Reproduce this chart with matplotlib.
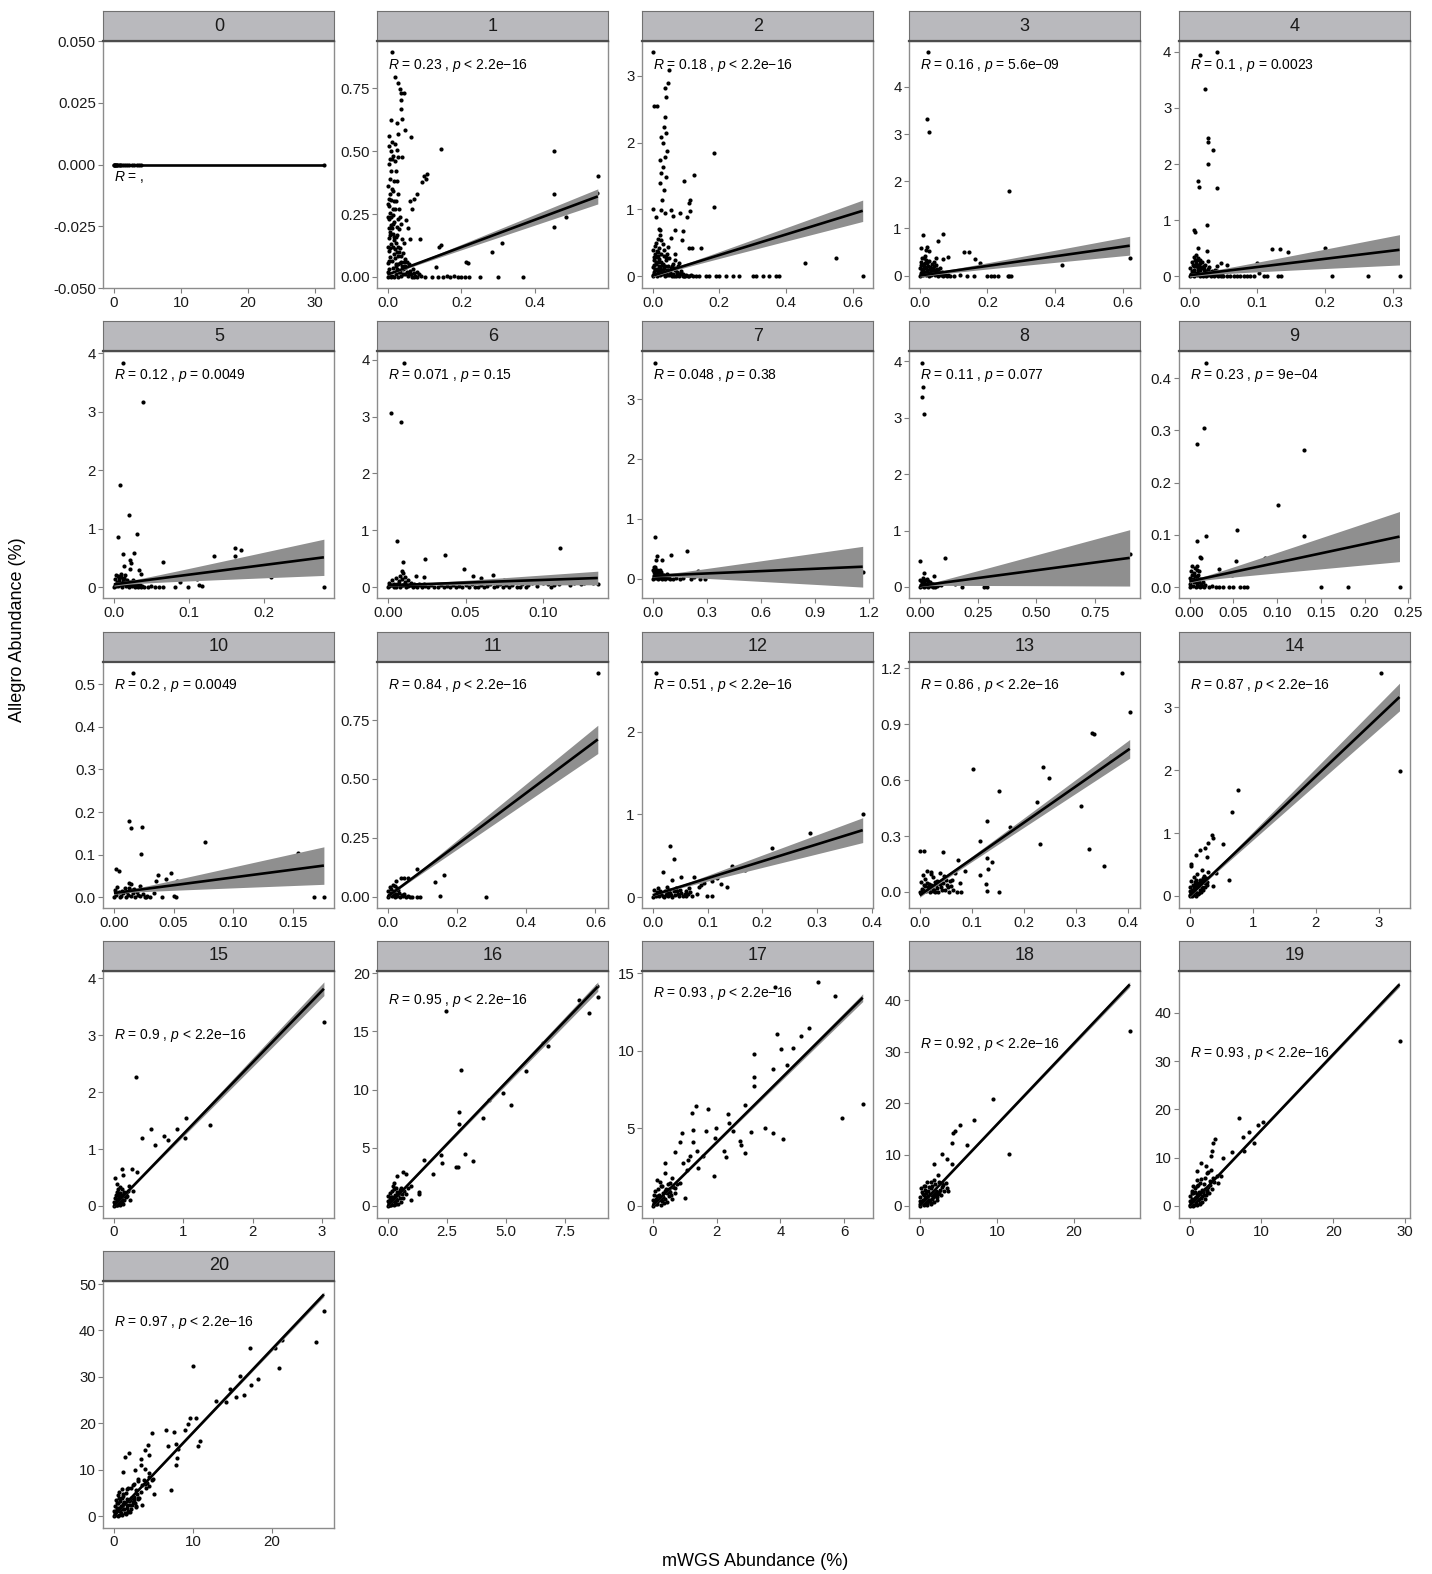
"""Facet grid of Allegro vs mWGS abundance per panel, with linear fits."""

import matplotlib

matplotlib.use("Agg")
import matplotlib.pyplot as plt
import matplotlib.transforms as mtransforms
import numpy as np

plt.rcParams["font.family"] = ["Liberation Sans", "DejaVu Sans"]
plt.rcParams["mathtext.fontset"] = "custom"
plt.rcParams["mathtext.rm"] = "Liberation Sans"
plt.rcParams["mathtext.it"] = "Liberation Sans:italic"

# ---- data (x = mWGS %, y = Allegro %) ----
p0_points = [
    (0.0, 0), (0.05, 0), (0.1, 0), (0.2, 0), (0.3, 0), (0.4, 0), (0.5, 0),
    (0.7, 0), (0.9, 0), (1.1, 0), (1.4, 0), (1.7, 0), (2.0, 0), (2.3, 0),
    (2.7, 0), (3.0, 0), (3.4, 0), (3.8, 0), (4.1, 0), (31.3, 0),
]
p1_points = [
    (0.000, 0.000), (0.002, 0.010), (0.004, 0.030), (0.001, 0.055), (0.006, 0.080),
    (0.003, 0.105), (0.008, 0.130), (0.002, 0.155), (0.005, 0.180), (0.009, 0.205),
    (0.003, 0.230), (0.007, 0.255), (0.004, 0.280), (0.010, 0.305), (0.006, 0.330),
    (0.012, 0.005), (0.014, 0.035), (0.011, 0.065), (0.016, 0.090), (0.013, 0.120),
    (0.018, 0.145), (0.015, 0.170), (0.012, 0.195), (0.017, 0.220), (0.014, 0.245),
    (0.019, 0.270), (0.016, 0.300), (0.021, 0.010), (0.023, 0.045), (0.020, 0.075),
    (0.025, 0.100), (0.022, 0.135), (0.026, 0.165), (0.024, 0.200), (0.028, 0.230),
    (0.030, 0.020), (0.032, 0.055), (0.029, 0.085), (0.034, 0.115), (0.036, 0.005),
    (0.040, 0.030), (0.043, 0.060), (0.038, 0.150), (0.046, 0.010), (0.050, 0.040),
    (0.055, 0.005), (0.060, 0.025), (0.065, 0.000), (0.070, 0.015), (0.075, 0.005),
    (0.001, 0.360), (0.005, 0.390), (0.009, 0.420), (0.003, 0.450), (0.014, 0.340),
    (0.018, 0.380), (0.022, 0.300), (0.027, 0.330), (0.030, 0.270), (0.033, 0.240),
    (0.000, 0.120), (0.000, 0.240), (0.001, 0.290), (0.008, 0.000), (0.017, 0.000),
    (0.027, 0.000), (0.035, 0.060), (0.042, 0.095), (0.048, 0.070), (0.052, 0.060),
    (0.058, 0.050), (0.031, 0.190), (0.036, 0.210),
    (0.001, 0.020), (0.003, 0.065), (0.005, 0.115), (0.007, 0.165), (0.002, 0.195),
    (0.009, 0.240), (0.004, 0.310), (0.011, 0.350), (0.013, 0.270), (0.015, 0.210),
    (0.017, 0.160), (0.019, 0.110), (0.021, 0.050), (0.023, 0.160), (0.025, 0.030),
    (0.027, 0.120), (0.029, 0.050), (0.031, 0.100), (0.033, 0.020), (0.037, 0.085),
    (0.039, 0.045), (0.041, 0.010), (0.044, 0.035), (0.047, 0.045), (0.053, 0.020),
    (0.057, 0.010), (0.062, 0.010), (0.068, 0.030), (0.072, 0.000), (0.078, 0.020),
    (0.085, 0.010), (0.006, 0.470), (0.010, 0.500), (0.015, 0.480), (0.020, 0.460),
    (0.022, 0.420), (0.024, 0.380), (0.002, 0.520), (0.004, 0.560),
    (0.011, 0.892), (0.019, 0.795), (0.027, 0.769), (0.032, 0.745), (0.036, 0.729),
    (0.043, 0.729), (0.008, 0.622), (0.026, 0.612), (0.036, 0.702), (0.036, 0.669),
    (0.038, 0.629), (0.027, 0.569), (0.046, 0.582), (0.064, 0.558), (0.011, 0.536),
    (0.019, 0.529), (0.024, 0.503), (0.029, 0.476), (0.012, 0.469), (0.038, 0.476),
    (0.145, 0.509), (0.450, 0.500), (0.450, 0.330), (0.450, 0.200), (0.470, 0.257),
    (0.484, 0.237), (0.570, 0.400), (0.568, 0.334), (0.310, 0.136), (0.283, 0.098),
    (0.368, 0.000), (0.300, 0.000), (0.213, 0.060), (0.217, 0.054), (0.140, 0.120),
    (0.144, 0.127), (0.131, 0.040), (0.088, 0.150), (0.099, 0.400), (0.103, 0.390),
    (0.094, 0.376), (0.107, 0.410), (0.080, 0.330), (0.070, 0.310), (0.060, 0.300),
    (0.066, 0.270), (0.050, 0.227), (0.055, 0.194), (0.060, 0.150), (0.044, 0.134),
    (0.080, 0.000), (0.090, 0.005), (0.100, 0.000), (0.120, 0.000), (0.135, 0.000),
    (0.150, 0.000), (0.160, 0.005), (0.170, 0.000), (0.180, 0.004), (0.190, 0.000),
    (0.200, 0.000), (0.210, 0.000), (0.220, 0.000), (0.250, 0.000),
]
p2_points = [
    (0.000, 0.000), (0.003, 0.040), (0.006, 0.090), (0.002, 0.140), (0.009, 0.190),
    (0.004, 0.240), (0.011, 0.290), (0.007, 0.340), (0.013, 0.010), (0.016, 0.060),
    (0.012, 0.110), (0.018, 0.160), (0.015, 0.210), (0.020, 0.260), (0.017, 0.310),
    (0.022, 0.020), (0.025, 0.070), (0.021, 0.120), (0.027, 0.170), (0.024, 0.220),
    (0.029, 0.030), (0.032, 0.080), (0.035, 0.130), (0.031, 0.180), (0.037, 0.000),
    (0.040, 0.050), (0.043, 0.100), (0.046, 0.150), (0.049, 0.020), (0.052, 0.070),
    (0.055, 0.120), (0.058, 0.000), (0.062, 0.040), (0.066, 0.090), (0.070, 0.010),
    (0.074, 0.050), (0.078, 0.000), (0.082, 0.030), (0.086, 0.080), (0.090, 0.010),
    (0.095, 0.000), (0.100, 0.020), (0.105, 0.000), (0.110, 0.010), (0.001, 0.400),
    (0.008, 0.450), (0.014, 0.380), (0.019, 0.430), (0.026, 0.340), (0.033, 0.300),
    (0.039, 0.250), (0.044, 0.330), (0.050, 0.280), (0.060, 0.180), (0.068, 0.250),
    (0.075, 0.150), (0.080, 0.200),
    (0.001, 0.020), (0.004, 0.065), (0.008, 0.115), (0.005, 0.165), (0.010, 0.215),
    (0.003, 0.290), (0.014, 0.035), (0.019, 0.085), (0.023, 0.140), (0.028, 0.100),
    (0.034, 0.050), (0.038, 0.160), (0.042, 0.020), (0.047, 0.090), (0.053, 0.040),
    (0.057, 0.150), (0.064, 0.010), (0.068, 0.120), (0.072, 0.070), (0.077, 0.030),
    (0.084, 0.050), (0.092, 0.040), (0.098, 0.010), (0.115, 0.020), (0.130, 0.010),
    (0.010, 0.500), (0.016, 0.560), (0.022, 0.620), (0.018, 0.700), (0.030, 0.480),
    (0.035, 0.400),
    (0.002, 3.350), (0.048, 3.090), (0.046, 2.890), (0.041, 2.690), (0.038, 2.820),
    (0.036, 2.390), (0.034, 2.240), (0.039, 2.140), (0.026, 2.090), (0.031, 1.990),
    (0.044, 1.870), (0.036, 1.790), (0.023, 1.740), (0.031, 1.640), (0.026, 1.540),
    (0.041, 1.490), (0.023, 1.390), (0.034, 1.290), (0.028, 1.140), (0.005, 2.550),
    (0.012, 2.550), (0.000, 1.000), (0.024, 0.990), (0.036, 0.940), (0.056, 0.990),
    (0.060, 0.900), (0.082, 0.940), (0.094, 1.420), (0.123, 1.520), (0.108, 1.090),
    (0.113, 1.140), (0.113, 0.970), (0.103, 0.890), (0.185, 1.840), (0.183, 1.040),
    (0.092, 0.670), (0.087, 0.540), (0.108, 0.420), (0.118, 0.420), (0.144, 0.420),
    (0.067, 0.690), (0.056, 0.570), (0.046, 0.440), (0.067, 0.340), (0.041, 0.290),
    (0.015, 0.370), (0.026, 0.540), (0.021, 0.690), (0.010, 0.890),
    (0.456, 0.200), (0.549, 0.280), (0.630, 0.000),
    (0.120, 0.000), (0.140, 0.000), (0.160, 0.010), (0.170, 0.000), (0.190, 0.000),
    (0.200, 0.000), (0.220, 0.000), (0.240, 0.000), (0.260, 0.000), (0.300, 0.000),
    (0.310, 0.000), (0.330, 0.000), (0.350, 0.000), (0.370, 0.000), (0.380, 0.000),
]
p3_points = [
    (0.000, 0.000), (0.003, 0.050), (0.006, 0.110), (0.002, 0.170), (0.009, 0.230),
    (0.005, 0.290), (0.011, 0.010), (0.014, 0.070), (0.010, 0.130), (0.016, 0.190),
    (0.013, 0.250), (0.018, 0.320), (0.020, 0.020), (0.023, 0.090), (0.019, 0.150),
    (0.025, 0.210), (0.028, 0.000), (0.031, 0.060), (0.034, 0.120), (0.030, 0.180),
    (0.037, 0.030), (0.040, 0.090), (0.044, 0.010), (0.047, 0.060), (0.050, 0.140),
    (0.054, 0.000), (0.058, 0.040), (0.062, 0.010), (0.066, 0.070), (0.070, 0.000),
    (0.075, 0.020), (0.080, 0.000), (0.085, 0.010), (0.090, 0.000), (0.008, 0.380),
    (0.015, 0.420), (0.022, 0.270), (0.027, 0.300), (0.035, 0.240), (0.042, 0.200),
    (0.055, 0.100), (0.060, 0.160),
    (0.004, 0.020), (0.008, 0.080), (0.012, 0.180), (0.017, 0.040), (0.021, 0.110),
    (0.026, 0.060), (0.029, 0.130), (0.033, 0.020), (0.039, 0.160), (0.045, 0.110),
    (0.052, 0.030), (0.057, 0.080), (0.064, 0.030), (0.072, 0.050), (0.005, 0.220),
    (0.016, 0.260), (0.048, 0.220),
    (0.100, 0.000), (0.120, 0.010), (0.140, 0.000), (0.160, 0.000), (0.200, 0.000),
    (0.210, 0.000), (0.220, 0.000), (0.230, 0.000), (0.260, 0.000), (0.265, 0.000),
    (0.270, 0.000),
    (0.025, 4.730), (0.021, 3.310), (0.028, 3.040), (0.264, 1.790), (0.420, 0.230),
    (0.620, 0.380), (0.010, 0.850), (0.070, 0.890), (0.053, 0.730), (0.003, 0.580),
    (0.023, 0.600), (0.028, 0.510), (0.018, 0.550), (0.083, 0.400), (0.068, 0.350),
    (0.131, 0.500), (0.147, 0.500), (0.162, 0.350), (0.177, 0.260), (0.043, 0.280),
    (0.048, 0.370), (0.013, 0.370),
]
p4_points = [
    (0.000, 0.000), (0.002, 0.050), (0.004, 0.100), (0.001, 0.150), (0.005, 0.200),
    (0.003, 0.250), (0.006, 0.010), (0.008, 0.060), (0.007, 0.120), (0.009, 0.180),
    (0.010, 0.240), (0.008, 0.300), (0.011, 0.020), (0.013, 0.080), (0.012, 0.140),
    (0.014, 0.200), (0.013, 0.330), (0.015, 0.000), (0.017, 0.050), (0.016, 0.110),
    (0.018, 0.170), (0.020, 0.010), (0.022, 0.070), (0.021, 0.130), (0.019, 0.260),
    (0.024, 0.000), (0.026, 0.040), (0.025, 0.100), (0.028, 0.020), (0.030, 0.080),
    (0.029, 0.160), (0.032, 0.000), (0.034, 0.050), (0.036, 0.010), (0.038, 0.110),
    (0.040, 0.030), (0.042, 0.000), (0.044, 0.060), (0.046, 0.010), (0.023, 0.200),
    (0.027, 0.280), (0.011, 0.290), (0.006, 0.350),
    (0.003, 0.020), (0.005, 0.080), (0.007, 0.180), (0.009, 0.040), (0.012, 0.110),
    (0.015, 0.230), (0.017, 0.140), (0.019, 0.030), (0.021, 0.180), (0.023, 0.050),
    (0.027, 0.130), (0.031, 0.040), (0.033, 0.100), (0.037, 0.060), (0.041, 0.090),
    (0.048, 0.030), (0.010, 0.380), (0.016, 0.300),
    (0.050, 0.000), (0.055, 0.010), (0.060, 0.000), (0.065, 0.000), (0.070, 0.000),
    (0.075, 0.010), (0.080, 0.000), (0.085, 0.000), (0.090, 0.000), (0.095, 0.000),
    (0.110, 0.000), (0.115, 0.000), (0.130, 0.000), (0.135, 0.000),
    (0.016, 3.950), (0.041, 3.990), (0.023, 3.340), (0.028, 2.460), (0.028, 2.400),
    (0.035, 2.260), (0.028, 2.000), (0.012, 1.690), (0.014, 1.600), (0.040, 1.570),
    (0.026, 0.920), (0.007, 0.830), (0.008, 0.790), (0.012, 0.500), (0.026, 0.460),
    (0.122, 0.490), (0.134, 0.490), (0.146, 0.430), (0.154, 0.300), (0.200, 0.500),
    (0.100, 0.230), (0.102, 0.060), (0.210, 0.000), (0.264, 0.000), (0.310, 0.000),
    (0.047, 0.240), (0.055, 0.210), (0.040, 0.180),
]
p5_points = [
    (0.000, 0.000), (0.002, 0.040), (0.004, 0.090), (0.001, 0.140), (0.005, 0.190),
    (0.006, 0.010), (0.008, 0.060), (0.007, 0.110), (0.009, 0.170), (0.011, 0.000),
    (0.013, 0.050), (0.012, 0.100), (0.014, 0.150), (0.016, 0.020), (0.018, 0.070),
    (0.017, 0.120), (0.020, 0.000), (0.022, 0.040), (0.021, 0.090), (0.024, 0.010),
    (0.026, 0.060), (0.028, 0.000), (0.030, 0.030), (0.032, 0.000), (0.034, 0.020),
    (0.036, 0.000), (0.015, 0.200), (0.010, 0.220),
    (0.003, 0.020), (0.005, 0.070), (0.007, 0.150), (0.010, 0.040), (0.012, 0.130),
    (0.015, 0.080), (0.019, 0.030), (0.023, 0.070), (0.025, 0.120), (0.027, 0.030),
    (0.031, 0.060), (0.035, 0.040), (0.038, 0.010), (0.003, 0.200),
    (0.040, 0.000), (0.045, 0.000), (0.050, 0.010), (0.055, 0.000), (0.060, 0.000),
    (0.065, 0.000),
    (0.012, 3.840), (0.039, 3.170), (0.008, 1.750), (0.020, 1.230), (0.005, 0.860),
    (0.031, 0.900), (0.012, 0.570), (0.027, 0.590), (0.013, 0.360), (0.022, 0.460),
    (0.023, 0.420), (0.022, 0.310), (0.033, 0.300), (0.036, 0.220), (0.066, 0.430),
    (0.134, 0.530), (0.161, 0.670), (0.161, 0.530), (0.169, 0.630), (0.185, 0.390),
    (0.200, 0.400), (0.209, 0.180), (0.280, 0.000), (0.111, 0.140), (0.113, 0.030),
    (0.118, 0.010), (0.088, 0.090), (0.081, 0.000), (0.099, 0.000),
]
p6_points = [
    (0.000, 0.00), (0.002, 0.03), (0.004, 0.00), (0.006, 0.05), (0.008, 0.01),
    (0.010, 0.04), (0.012, 0.00), (0.014, 0.03), (0.016, 0.00), (0.018, 0.02),
    (0.020, 0.05), (0.022, 0.00), (0.024, 0.02), (0.026, 0.00), (0.028, 0.04),
    (0.030, 0.00), (0.032, 0.01), (0.034, 0.03), (0.036, 0.00), (0.038, 0.02),
    (0.040, 0.00), (0.042, 0.04), (0.044, 0.00), (0.046, 0.02), (0.048, 0.00),
    (0.050, 0.03), (0.052, 0.00), (0.054, 0.05), (0.056, 0.01), (0.058, 0.00),
    (0.060, 0.03), (0.062, 0.00), (0.064, 0.02), (0.066, 0.06), (0.068, 0.00),
    (0.070, 0.02), (0.072, 0.05), (0.074, 0.00), (0.076, 0.03), (0.078, 0.00),
    (0.080, 0.04), (0.083, 0.01), (0.086, 0.06), (0.090, 0.03), (0.093, 0.07),
    (0.096, 0.02), (0.100, 0.08), (0.103, 0.05), (0.106, 0.09), (0.110, 0.06),
    (0.114, 0.10), (0.117, 0.04), (0.120, 0.08), (0.124, 0.06), (0.128, 0.10),
    (0.132, 0.07),
    (0.001, 0.08), (0.003, 0.12), (0.005, 0.16), (0.007, 0.10), (0.009, 0.14),
    (0.011, 0.09), (0.004, 0.06), (0.013, 0.12), (0.015, 0.07), (0.008, 0.20),
    (0.010, 0.25), (0.001, 0.02), (0.003, 0.04), (0.005, 0.01), (0.007, 0.06),
    (0.009, 0.03), (0.011, 0.05), (0.013, 0.02), (0.015, 0.04), (0.017, 0.06),
    (0.019, 0.01), (0.021, 0.03), (0.023, 0.05),
    (0.0104, 3.95), (0.002, 3.06), (0.0088, 2.90), (0.006, 0.81), (0.0095, 0.44),
    (0.024, 0.49), (0.0365, 0.57), (0.049, 0.31), (0.111, 0.69), (0.0545, 0.19),
    (0.060, 0.16), (0.0675, 0.22), (0.0746, 0.13), (0.089, 0.13), (0.011, 0.18),
    (0.0092, 0.28), (0.018, 0.20), (0.023, 0.18), (0.118, 0.13), (0.126, 0.07),
    (0.123, 0.10), (0.085, 0.00), (0.089, 0.00), (0.105, 0.00), (0.107, 0.04),
    (0.100, 0.12), (0.135, 0.05),
]
p7_points = [
    (0.000, 0.000), (0.005, 0.040), (0.010, 0.090), (0.003, 0.140), (0.015, 0.190),
    (0.020, 0.010), (0.025, 0.060), (0.018, 0.120), (0.030, 0.000), (0.035, 0.050),
    (0.028, 0.100), (0.040, 0.020), (0.045, 0.080), (0.038, 0.150), (0.050, 0.000),
    (0.055, 0.040), (0.060, 0.010), (0.065, 0.070), (0.070, 0.000), (0.075, 0.030),
    (0.080, 0.060), (0.085, 0.010), (0.090, 0.040), (0.095, 0.000), (0.012, 0.170),
    (0.022, 0.140), (0.008, 0.200),
    (0.007, 0.020), (0.013, 0.060), (0.017, 0.030), (0.023, 0.090), (0.027, 0.020),
    (0.033, 0.120), (0.042, 0.050), (0.048, 0.110), (0.058, 0.060), (0.068, 0.020),
    (0.078, 0.080), (0.005, 0.110), (0.010, 0.150),
    (0.110, 0.000), (0.130, 0.020), (0.150, 0.000), (0.170, 0.010), (0.210, 0.000),
    (0.230, 0.030), (0.260, 0.000), (0.290, 0.000),
    (0.014, 3.610), (0.014, 0.700), (0.023, 0.380), (0.017, 0.320), (0.050, 0.320),
    (0.100, 0.390), (0.190, 0.470), (0.250, 0.130), (1.166, 0.120),
]
p8_points = [
    (0.000, 0.000), (0.004, 0.040), (0.008, 0.090), (0.002, 0.130), (0.012, 0.010),
    (0.016, 0.060), (0.010, 0.110), (0.020, 0.000), (0.024, 0.040), (0.018, 0.090),
    (0.028, 0.010), (0.032, 0.060), (0.026, 0.120), (0.036, 0.000), (0.040, 0.030),
    (0.044, 0.080), (0.048, 0.010), (0.052, 0.050), (0.056, 0.000), (0.060, 0.020),
    (0.065, 0.000), (0.070, 0.030), (0.014, 0.150), (0.030, 0.140),
    (0.006, 0.020), (0.010, 0.060), (0.014, 0.030), (0.018, 0.120), (0.022, 0.060),
    (0.030, 0.030), (0.034, 0.100), (0.042, 0.050), (0.050, 0.030), (0.058, 0.060),
    (0.075, 0.010), (0.080, 0.040),
    (0.011, 3.980), (0.013, 3.550), (0.011, 3.370), (0.020, 3.060), (0.002, 0.460),
    (0.110, 0.510), (0.018, 0.240), (0.062, 0.200), (0.380, 0.310), (0.304, 0.240),
    (0.220, 0.090), (0.270, 0.070), (0.275, 0.000), (0.290, 0.000), (0.840, 0.520),
    (0.900, 0.590), (0.150, 0.060), (0.180, 0.000), (0.090, 0.030),
]
p9_points = [
    (0.000, 0.000), (0.001, 0.006), (0.002, 0.012), (0.001, 0.018), (0.003, 0.024),
    (0.002, 0.030), (0.004, 0.003), (0.005, 0.009), (0.004, 0.015), (0.006, 0.021),
    (0.005, 0.027), (0.007, 0.000), (0.008, 0.006), (0.007, 0.012), (0.009, 0.018),
    (0.008, 0.033), (0.010, 0.003), (0.011, 0.009), (0.010, 0.024), (0.012, 0.000),
    (0.013, 0.006), (0.012, 0.015), (0.014, 0.003), (0.015, 0.010), (0.016, 0.000),
    (0.018, 0.004), (0.006, 0.036), (0.003, 0.040), (0.009, 0.040), (0.011, 0.030),
    (0.022, 0.000), (0.026, 0.002), (0.030, 0.000), (0.034, 0.000), (0.038, 0.001),
    (0.045, 0.000), (0.050, 0.000), (0.058, 0.000), (0.062, 0.000), (0.066, 0.000),
    (0.019, 0.430), (0.017, 0.304), (0.009, 0.274), (0.131, 0.262), (0.101, 0.158),
    (0.054, 0.109), (0.019, 0.098), (0.131, 0.098), (0.012, 0.058), (0.013, 0.056),
    (0.008, 0.088), (0.086, 0.055), (0.053, 0.049), (0.135, 0.046), (0.034, 0.035),
    (0.042, 0.026), (0.049, 0.024), (0.150, 0.000), (0.181, 0.000), (0.240, 0.000),
]
p10_points = [
    (0.000, 0.000), (0.002, 0.006), (0.004, 0.012), (0.001, 0.018), (0.006, 0.003),
    (0.008, 0.009), (0.007, 0.015), (0.009, 0.021), (0.010, 0.000), (0.012, 0.006),
    (0.011, 0.012), (0.014, 0.003), (0.016, 0.009), (0.015, 0.016), (0.018, 0.000),
    (0.020, 0.005), (0.019, 0.012), (0.022, 0.002), (0.024, 0.008), (0.026, 0.000),
    (0.028, 0.004), (0.003, 0.024), (0.013, 0.022), (0.017, 0.020), (0.005, 0.000),
    (0.030, 0.000),
    (0.0164, 0.527), (0.0128, 0.179), (0.0146, 0.162), (0.0239, 0.165), (0.023, 0.102),
    (0.076, 0.130), (0.154, 0.105), (0.168, 0.000), (0.176, 0.000), (0.002, 0.067),
    (0.0042, 0.061), (0.048, 0.057), (0.0433, 0.044), (0.037, 0.052), (0.0356, 0.038),
    (0.053, 0.038), (0.050, 0.002), (0.052, 0.000), (0.040, 0.000), (0.034, 0.010),
    (0.027, 0.000), (0.022, 0.026), (0.013, 0.034), (0.014, 0.030),
]
p11_points = [
    (0.000, 0.000), (0.004, 0.008), (0.008, 0.016), (0.002, 0.024), (0.012, 0.004),
    (0.016, 0.012), (0.010, 0.030), (0.020, 0.000), (0.024, 0.010), (0.018, 0.022),
    (0.028, 0.004), (0.032, 0.014), (0.026, 0.036), (0.036, 0.000), (0.040, 0.008),
    (0.044, 0.002), (0.048, 0.010), (0.006, 0.040), (0.014, 0.048), (0.022, 0.045),
    (0.030, 0.028), (0.052, 0.000), (0.058, 0.004), (0.064, 0.000),
    (0.607, 0.951), (0.084, 0.117), (0.135, 0.060), (0.161, 0.093), (0.151, 0.003),
    (0.284, 0.000), (0.023, 0.067), (0.038, 0.077), (0.048, 0.077), (0.058, 0.077),
    (0.069, 0.000), (0.084, 0.000), (0.094, 0.000),
]
p12_points = [
    (0.000, 0.000), (0.004, 0.030), (0.008, 0.060), (0.002, 0.090), (0.012, 0.010),
    (0.016, 0.040), (0.014, 0.080), (0.020, 0.000), (0.024, 0.030), (0.022, 0.070),
    (0.028, 0.010), (0.032, 0.050), (0.030, 0.090), (0.036, 0.000), (0.040, 0.030),
    (0.044, 0.070), (0.048, 0.010), (0.052, 0.050), (0.056, 0.020), (0.060, 0.080),
    (0.064, 0.040), (0.010, 0.110), (0.026, 0.120), (0.042, 0.110),
    (0.006, 0.015), (0.010, 0.045), (0.018, 0.020), (0.026, 0.055), (0.034, 0.025),
    (0.038, 0.075), (0.046, 0.040), (0.050, 0.090), (0.058, 0.040), (0.068, 0.060),
    (0.072, 0.020), (0.080, 0.040),
    (0.0066, 2.710), (0.383, 1.000), (0.363, 0.830), (0.286, 0.780), (0.218, 0.590),
    (0.277, 0.610), (0.144, 0.380), (0.169, 0.330), (0.117, 0.230), (0.124, 0.160),
    (0.136, 0.130), (0.108, 0.200), (0.031, 0.620), (0.038, 0.460), (0.019, 0.310),
    (0.052, 0.240), (0.075, 0.240), (0.089, 0.150), (0.099, 0.020), (0.108, 0.020),
    (0.061, 0.020), (0.066, 0.110), (0.036, 0.210), (0.085, 0.130), (0.094, 0.170),
]
p13_points = [
    (0.000, 0.000), (0.004, 0.015), (0.008, 0.035), (0.002, 0.055), (0.012, 0.005),
    (0.016, 0.025), (0.010, 0.070), (0.020, 0.000), (0.024, 0.020), (0.018, 0.045),
    (0.028, 0.010), (0.032, 0.035), (0.026, 0.080), (0.036, 0.000), (0.040, 0.025),
    (0.034, 0.060), (0.044, 0.050), (0.048, 0.010), (0.052, 0.040), (0.046, 0.085),
    (0.056, 0.000), (0.022, 0.095), (0.014, 0.110), (0.038, 0.100), (0.060, 0.030),
    (0.030, 0.000), (0.006, 0.090),
    (0.006, 0.010), (0.010, 0.030), (0.014, 0.050), (0.018, 0.015), (0.022, 0.035),
    (0.026, 0.005), (0.030, 0.055), (0.034, 0.020), (0.038, 0.045), (0.042, 0.010),
    (0.050, 0.065), (0.054, 0.025), (0.058, 0.060), (0.064, 0.010),
    (0.388, 1.176), (0.403, 0.966), (0.331, 0.854), (0.334, 0.845), (0.367, 0.731),
    (0.237, 0.673), (0.248, 0.610), (0.102, 0.660), (0.153, 0.543), (0.226, 0.482),
    (0.310, 0.463), (0.173, 0.347), (0.129, 0.379), (0.115, 0.276), (0.230, 0.260),
    (0.324, 0.231), (0.354, 0.142), (0.129, 0.183), (0.138, 0.160), (0.131, 0.125),
    (0.116, 0.089), (0.128, 0.041), (0.129, 0.005), (0.153, 0.002), (0.072, 0.000),
    (0.080, 0.000), (0.074, 0.171), (0.087, 0.112), (0.067, 0.103), (0.062, 0.062),
    (0.077, 0.050), (0.001, 0.219), (0.008, 0.222), (0.044, 0.215), (0.021, 0.107),
]
p14_points = [
    (0.000, 0.000), (0.020, 0.040), (0.040, 0.090), (0.010, 0.140), (0.060, 0.020),
    (0.080, 0.070), (0.050, 0.180), (0.100, 0.000), (0.120, 0.050), (0.090, 0.120),
    (0.140, 0.030), (0.160, 0.100), (0.130, 0.200), (0.180, 0.060), (0.200, 0.150),
    (0.170, 0.250), (0.220, 0.100), (0.240, 0.200), (0.260, 0.280), (0.030, 0.230),
    (0.070, 0.300), (0.110, 0.260), (0.000, 0.080), (0.040, 0.000),
    (0.010, 0.020), (0.030, 0.060), (0.050, 0.100), (0.070, 0.140), (0.090, 0.060),
    (0.110, 0.180), (0.150, 0.160), (0.190, 0.200), (0.210, 0.280), (0.230, 0.320),
    (0.120, 0.350), (0.080, 0.220), (0.150, 0.050), (0.250, 0.150), (0.280, 0.220),
    (3.040, 3.550), (3.330, 1.980), (0.770, 1.680), (0.670, 1.340), (0.360, 0.970),
    (0.380, 0.920), (0.530, 0.830), (0.300, 0.840), (0.160, 0.730), (0.100, 0.650),
    (0.020, 0.510), (0.030, 0.470), (0.240, 0.760), (0.280, 0.620), (0.200, 0.420),
    (0.300, 0.380), (0.420, 0.360), (0.630, 0.260), (0.370, 0.160), (0.280, 0.170),
    (0.220, 0.250),
]
p15_points = [
    (0.000, 0.000), (0.020, 0.040), (0.040, 0.090), (0.010, 0.140), (0.050, 0.020),
    (0.070, 0.070), (0.030, 0.190), (0.090, 0.010), (0.100, 0.060), (0.060, 0.120),
    (0.110, 0.110), (0.080, 0.160), (0.130, 0.040), (0.120, 0.180), (0.150, 0.100),
    (0.050, 0.240), (0.090, 0.220), (0.000, 0.060), (0.140, 0.250), (0.170, 0.150),
    (0.010, 0.020), (0.030, 0.070), (0.050, 0.120), (0.070, 0.170), (0.100, 0.140),
    (0.130, 0.200), (0.160, 0.180), (0.180, 0.220), (0.200, 0.260), (0.110, 0.300),
    (0.060, 0.300), (0.040, 0.020), (0.080, 0.040), (0.120, 0.080),
    (3.030, 3.240), (0.320, 2.260), (0.530, 1.350), (0.400, 1.190), (0.590, 1.070),
    (0.730, 1.230), (0.780, 1.160), (0.910, 1.350), (1.040, 1.540), (1.020, 1.200),
    (1.390, 1.430), (0.260, 0.640), (0.120, 0.640), (0.330, 0.600), (0.020, 0.490),
    (0.130, 0.540), (0.220, 0.350), (0.190, 0.170), (0.230, 0.110), (0.040, 0.380),
    (0.090, 0.330), (0.070, 0.230), (0.140, 0.230), (0.270, 0.260),
]
p16_points = [
    (0.00, 0.00), (0.05, 0.25), (0.10, 0.55), (0.02, 0.85), (0.15, 0.10),
    (0.20, 0.40), (0.12, 0.75), (0.25, 0.05), (0.30, 0.30), (0.22, 0.65),
    (0.35, 0.15), (0.40, 0.50), (0.32, 0.90), (0.45, 0.20), (0.50, 0.70),
    (0.08, 1.10), (0.18, 1.25), (0.28, 1.45), (0.38, 1.20), (0.55, 0.30),
    (0.60, 1.00), (0.00, 0.40),
    (0.03, 0.10), (0.07, 0.35), (0.14, 0.30), (0.19, 0.80), (0.26, 0.55),
    (0.33, 0.60), (0.42, 0.90), (0.48, 1.10), (0.36, 1.55), (0.23, 1.70),
    (0.52, 1.40), (0.65, 0.70), (0.70, 1.30), (0.10, 0.05),
    (8.86, 18.86), (8.89, 17.94), (8.08, 17.71), (8.52, 16.57), (2.47, 16.71),
    (6.59, 14.00), (6.80, 13.71), (5.87, 11.57), (3.10, 11.71), (4.87, 9.71),
    (5.22, 8.71), (4.30, 9.14), (3.02, 8.06), (3.02, 7.06), (4.04, 7.51),
    (3.28, 4.49), (3.62, 3.86), (2.99, 3.37), (2.87, 3.37), (2.25, 4.37),
    (2.28, 3.71), (1.90, 2.77), (1.53, 3.91), (1.30, 1.20), (1.30, 1.06),
    (0.75, 2.77), (0.63, 2.94), (0.40, 2.57), (0.28, 1.94), (0.55, 1.57),
    (0.85, 1.51), (1.00, 1.71), (1.00, 0.51), (0.78, 1.00),
]
p17_points = [
    (0.00, 0.00), (0.05, 0.20), (0.10, 0.45), (0.03, 0.70), (0.15, 0.10),
    (0.20, 0.35), (0.12, 0.60), (0.25, 0.05), (0.30, 0.30), (0.22, 0.55),
    (0.35, 0.15), (0.40, 0.45), (0.32, 0.80), (0.45, 0.25), (0.50, 0.60),
    (0.55, 0.90), (0.08, 0.95), (0.18, 1.10), (0.28, 1.25), (0.42, 1.05),
    (0.60, 0.40), (0.65, 1.20), (0.00, 0.35),
    (0.04, 0.10), (0.08, 0.30), (0.14, 0.25), (0.19, 0.70), (0.26, 0.45),
    (0.33, 0.55), (0.38, 0.95), (0.46, 0.80), (0.52, 1.10), (0.58, 0.70),
    (0.70, 0.80), (0.75, 1.40), (0.24, 1.50), (0.48, 1.40), (0.10, 0.10),
    (5.19, 14.44), (3.82, 14.12), (5.72, 13.52), (6.58, 6.55), (5.92, 5.69),
    (4.91, 11.48), (4.64, 10.94), (3.91, 11.07), (4.02, 10.11), (4.39, 10.15),
    (4.21, 9.08), (3.78, 8.80), (3.18, 9.76), (3.18, 8.33), (3.18, 7.75),
    (2.88, 6.50), (3.08, 4.74), (3.53, 5.04), (3.78, 4.68), (4.07, 4.29),
    (2.72, 4.18), (2.76, 3.93), (2.88, 3.43), (2.35, 5.92), (2.40, 5.36),
    (2.53, 4.79), (1.99, 5.04), (1.96, 4.36), (1.67, 4.79), (2.24, 3.50),
    (2.29, 3.11), (1.91, 1.89), (1.72, 6.24), (1.35, 6.46), (1.23, 6.01),
    (1.26, 4.89), (0.91, 4.68), (0.86, 4.14), (1.26, 4.14), (1.38, 3.50),
    (1.18, 3.18), (1.59, 3.22), (0.70, 3.45), (1.10, 2.96), (0.94, 2.75),
    (1.43, 2.42), (1.02, 0.49), (0.86, 1.46), (1.07, 2.32), (0.62, 1.78),
    (0.37, 2.75), (0.37, 2.10), (0.53, 1.46), (0.13, 1.67), (0.26, 1.24),
    (0.70, 1.14),
]
p18_points = [
    (0.0, 0.0), (0.2, 0.6), (0.4, 1.2), (0.1, 1.8), (0.6, 0.3), (0.8, 0.9),
    (0.5, 2.2), (1.0, 0.2), (1.2, 1.0), (0.9, 1.6), (1.4, 0.5), (1.6, 1.4),
    (1.3, 2.4), (1.8, 0.8), (2.0, 1.9), (1.7, 2.8), (2.2, 1.2), (2.4, 2.4),
    (0.3, 2.8), (0.7, 3.2), (1.1, 3.0), (2.6, 3.2), (0.0, 0.9), (1.5, 3.4),
    (0.1, 0.3), (0.3, 0.9), (0.5, 0.1), (0.7, 1.5), (0.9, 0.5), (1.1, 2.0),
    (1.3, 1.2), (1.5, 0.4), (1.7, 1.8), (1.9, 2.5), (2.1, 3.0), (2.3, 1.8),
    (2.5, 2.8), (2.7, 2.2), (2.9, 3.6), (3.1, 3.0), (0.4, 2.4), (0.8, 2.6),
    (1.2, 3.6), (1.6, 3.9), (2.0, 4.2), (2.5, 4.6), (3.0, 4.0), (3.4, 4.4),
    (1.0, 4.6), (0.6, 3.8),
    (27.2, 33.97), (9.53, 20.85), (11.53, 10.03), (7.07, 16.72), (5.20, 15.74),
    (4.53, 14.62), (4.33, 14.16), (6.07, 11.80), (4.20, 12.33), (2.87, 10.16),
    (3.53, 9.05), (4.20, 8.07), (1.87, 8.07), (2.33, 6.10), (1.87, 5.11),
    (1.40, 4.66), (0.67, 3.80), (0.20, 3.48), (2.87, 4.46), (3.53, 3.48),
    (3.73, 2.95), (0.87, 1.84), (1.53, 2.16), (2.20, 2.49),
]
p19_points = [
    (0.0, 0.0), (0.2, 0.7), (0.4, 1.4), (0.1, 2.1), (0.6, 0.3), (0.8, 1.0),
    (0.5, 2.6), (1.0, 0.2), (1.2, 1.2), (0.9, 1.9), (1.4, 0.6), (1.6, 1.6),
    (1.3, 2.8), (1.8, 0.9), (2.0, 2.2), (1.7, 3.4), (2.2, 1.4), (2.4, 2.9),
    (0.3, 3.2), (0.7, 3.8), (1.1, 4.2), (2.6, 4.0), (0.0, 1.0), (1.5, 4.8),
    (2.0, 4.5),
    (0.1, 0.3), (0.3, 1.0), (0.5, 0.1), (0.7, 1.6), (0.9, 0.6), (1.1, 2.4),
    (1.3, 1.4), (1.5, 0.5), (1.7, 2.1), (1.9, 3.0), (2.1, 3.6), (2.3, 2.2),
    (2.5, 3.3), (2.7, 2.7), (2.9, 4.4), (3.1, 3.6), (0.4, 2.7), (0.8, 3.0),
    (1.2, 4.4), (1.6, 5.6), (2.2, 5.8), (2.8, 5.2), (3.4, 5.0), (3.8, 6.2),
    (1.0, 5.3), (0.5, 4.2), (2.5, 6.8), (3.0, 7.5),
    (29.2, 34.28), (6.82, 18.29), (10.20, 17.39), (9.49, 16.69), (8.22, 15.30),
    (7.38, 14.33), (8.92, 13.07), (7.52, 11.34), (5.97, 11.13), (3.51, 13.91),
    (3.30, 13.07), (3.16, 11.34), (2.95, 10.29), (4.71, 9.94), (1.55, 8.90),
    (2.25, 8.21), (1.05, 7.16), (2.60, 6.95), (4.00, 4.73), (3.30, 5.77),
    (4.36, 6.26),
]
p20_points = [
    (0.0, 0.0), (0.2, 0.7), (0.4, 1.4), (0.1, 2.1), (0.6, 0.3), (0.8, 1.1),
    (0.5, 2.8), (1.0, 0.3), (1.2, 1.5), (0.9, 2.2), (1.4, 0.7), (1.6, 1.8),
    (1.3, 3.0), (1.8, 1.0), (2.0, 2.4), (1.7, 3.6), (2.2, 1.6), (2.4, 3.1),
    (0.3, 3.4), (0.7, 4.0), (1.1, 4.4), (2.6, 4.2), (0.0, 1.0), (1.5, 4.9),
    (2.8, 2.2), (3.0, 3.6),
    (0.1, 0.3), (0.3, 1.0), (0.5, 0.1), (0.7, 1.7), (0.9, 0.6), (1.1, 2.6),
    (1.3, 1.5), (1.5, 0.5), (1.7, 2.3), (1.9, 3.2), (2.1, 3.9), (2.3, 2.4),
    (2.5, 3.5), (2.7, 2.9), (2.9, 4.7), (3.2, 4.0), (0.4, 2.9), (0.8, 3.3),
    (1.2, 4.7), (1.6, 5.8), (2.2, 6.1), (2.8, 5.6), (3.4, 5.3), (3.6, 6.6),
    (4.0, 6.0), (4.2, 7.2), (3.8, 7.8), (1.0, 5.8), (0.5, 4.5), (2.5, 7.0),
    (3.0, 7.5), (4.5, 6.5), (5.0, 8.0), (4.4, 8.4), (2.0, 0.8), (3.5, 2.5),
    (26.55, 44.27), (25.59, 37.46), (17.24, 36.25), (20.34, 36.18), (21.24, 37.97),
    (20.90, 31.88), (10.00, 32.45), (18.28, 29.44), (17.38, 28.30), (16.00, 30.30),
    (16.41, 26.00), (15.38, 25.64), (14.69, 27.44), (14.14, 24.57), (12.97, 24.79),
    (10.90, 16.19), (10.69, 15.04), (9.66, 21.13), (10.34, 21.20), (9.31, 19.77),
    (8.97, 18.62), (7.59, 18.12), (6.55, 18.62), (4.83, 17.91), (7.79, 15.62),
    (8.07, 14.54), (6.90, 15.11), (7.93, 12.54), (7.79, 10.96), (7.24, 5.59),
    (5.03, 4.73), (4.34, 15.40), (3.93, 14.18), (3.45, 12.39), (4.48, 13.11),
    (1.38, 12.75), (1.86, 13.61), (1.17, 9.53), (2.62, 9.89), (3.45, 10.96),
    (3.93, 10.24), (4.48, 9.31), (4.83, 7.74), (3.93, 7.02), (3.10, 8.09),
    (2.41, 6.66), (1.72, 5.95), (0.69, 5.23), (1.03, 3.80), (2.07, 3.44),
    (3.10, 3.80), (2.76, 2.01), (1.72, 0.93), (0.34, 1.65),
]

# linear fit: intercept, slope, narrowest and right-end CI half-widths
fit_intercept = [0, 0.010, 0.01, 0.0, 0.02, 0.047, 0.03, 0.05, 0.02, 0.011, 0.01,
                 0.0, 0.025, -0.018, 0.0, 0.0, 0.0, 0.0, 0.0, 0.0, 0.0]
fit_slope = [0, 0.544, 1.54, 1.02, 1.46, 1.65, 0.96, 0.13, 0.55, 0.357, 0.366,
             1.10, 2.05, 1.95, 0.95, 1.26, 2.12, 2.04, 1.585, 1.573, 1.80]
ci_min = [0, 0.004, 0.02, 0.03, 0.03, 0.03, 0.015, 0.02, 0.02, 0.003, 0.003,
          0.003, 0.01, 0.01, 0.02, 0.01, 0.05, 0.05, 0.1, 0.1, 0.1]
ci_right = [0, 0.03, 0.16, 0.20, 0.27, 0.31, 0.12, 0.34, 0.50, 0.048, 0.044,
            0.06, 0.15, 0.05, 0.22, 0.12, 0.40, 0.25, 0.5, 0.5, 0.5]
ci_center = [0, 0.01, 0.02, 0.02, 0.01, 0.01, 0.01, 0.03, 0.02, 0.005, 0.005,
             0.01, 0.02, 0.02, 0.1, 0.05, 0.2, 0.2, 0.8, 0.8, 0.8]

r_values = ["", "0.23", "0.18", "0.16", "0.1", "0.12", "0.071", "0.048", "0.11",
            "0.23", "0.2", "0.84", "0.51", "0.86", "0.87", "0.9", "0.95", "0.93",
            "0.92", "0.93", "0.97"]
p_values = ["", "< 2.2e\u221216", "< 2.2e\u221216", "= 5.6e\u221209", "= 0.0023",
            "= 0.0049", "= 0.15", "= 0.38", "= 0.077", "= 9e\u221204", "= 0.0049",
            "< 2.2e\u221216", "< 2.2e\u221216", "< 2.2e\u221216", "< 2.2e\u221216",
            "< 2.2e\u221216", "< 2.2e\u221216", "< 2.2e\u221216", "< 2.2e\u221216",
            "< 2.2e\u221216", "< 2.2e\u221216"]
label_y = [0.449, 0.903, 0.903, 0.903, 0.903, 0.903, 0.903, 0.903, 0.903, 0.903,
           0.903, 0.903, 0.903, 0.903, 0.903, 0.737, 0.879, 0.907, 0.700, 0.664, 0.83]

x_ticks = [
    ["0", "10", "20", "30"], ["0.0", "0.2", "0.4"], ["0.0", "0.2", "0.4", "0.6"],
    ["0.0", "0.2", "0.4", "0.6"], ["0.0", "0.1", "0.2", "0.3"], ["0.0", "0.1", "0.2"],
    ["0.00", "0.05", "0.10"], ["0.0", "0.3", "0.6", "0.9", "1.2"],
    ["0.00", "0.25", "0.50", "0.75"], ["0.00", "0.05", "0.10", "0.15", "0.20", "0.25"],
    ["0.00", "0.05", "0.10", "0.15"], ["0.0", "0.2", "0.4", "0.6"],
    ["0.0", "0.1", "0.2", "0.3", "0.4"], ["0.0", "0.1", "0.2", "0.3", "0.4"],
    ["0", "1", "2", "3"], ["0", "1", "2", "3"], ["0.0", "2.5", "5.0", "7.5"],
    ["0", "2", "4", "6"], ["0", "10", "20"], ["0", "10", "20", "30"], ["0", "10", "20"],
]
y_ticks = [
    ["-0.050", "-0.025", "0.000", "0.025", "0.050"], ["0.00", "0.25", "0.50", "0.75"],
    ["0", "1", "2", "3"], ["0", "1", "2", "3", "4"], ["0", "1", "2", "3", "4"],
    ["0", "1", "2", "3", "4"], ["0", "1", "2", "3", "4"], ["0", "1", "2", "3"],
    ["0", "1", "2", "3", "4"], ["0.0", "0.1", "0.2", "0.3", "0.4"],
    ["0.0", "0.1", "0.2", "0.3", "0.4", "0.5"], ["0.00", "0.25", "0.50", "0.75"],
    ["0", "1", "2"], ["0.0", "0.3", "0.6", "0.9", "1.2"], ["0", "1", "2", "3"],
    ["0", "1", "2", "3", "4"], ["0", "5", "10", "15", "20"], ["0", "5", "10", "15"],
    ["0", "10", "20", "30", "40"], ["0", "10", "20", "30", "40"],
    ["0", "10", "20", "30", "40", "50"],
]

panel_points = [p0_points, p1_points, p2_points, p3_points, p4_points, p5_points,
                p6_points, p7_points, p8_points, p9_points, p10_points, p11_points,
                p12_points, p13_points, p14_points, p15_points, p16_points,
                p17_points, p18_points, p19_points, p20_points]

# ---- layout (pixels of the 1432x1574 canvas) ----
FIG_W, FIG_H = 1432, 1574
COL_LEFT = [103.4, 377.3, 642.2, 909.2, 1179.0]
ROW_TOP = [41.2, 351.3, 661.5, 970.7, 1280.8]
PANEL_W, PANEL_H, STRIP_H = 231.0, 247.0, 30.0

STRIP_FILL = "#b9b9bd"
BORDER = "#8c8c8c"
BAND = "#8f8f8f"


def expand(lo, hi):
    span = hi - lo
    return lo - 0.05 * span, hi + 0.05 * span


fig = plt.figure(figsize=(FIG_W / 100, FIG_H / 100), dpi=100)

for k, pts in enumerate(panel_points):
    row, col = divmod(k, 5)
    left = COL_LEFT[col] / FIG_W
    bottom = 1 - (ROW_TOP[row] + PANEL_H) / FIG_H
    ax = fig.add_axes([left, bottom, PANEL_W / FIG_W, PANEL_H / FIG_H])
    strip = fig.add_axes([left, 1 - ROW_TOP[row] / FIG_H, PANEL_W / FIG_W, STRIP_H / FIG_H])

    xs = np.array([p[0] for p in pts], dtype=float)
    ys = np.array([p[1] for p in pts], dtype=float)

    xf = np.linspace(xs.min(), xs.max(), 80)
    yf = fit_intercept[k] + fit_slope[k] * xf
    span = max(xs.max() - ci_center[k], 1e-9)
    growth = max(ci_right[k] ** 2 - ci_min[k] ** 2, 0.0)
    half = np.sqrt(ci_min[k] ** 2 + growth * ((xf - ci_center[k]) / span) ** 2)

    ax.scatter(xs, ys, s=9, c="black", linewidths=0, zorder=2)
    if k > 0:
        ax.fill_between(xf, yf - half, yf + half, color=BAND, lw=0, zorder=3)
    ax.plot(xf, yf, color="black", lw=1.9, solid_capstyle="butt", zorder=4)

    ax.set_xlim(*expand(xs.min(), xs.max()))
    if k == 0:
        ax.set_ylim(-0.05, 0.05)
    else:
        ax.set_ylim(*expand(min(ys.min(), (yf - half).min()),
                            max(ys.max(), (yf + half).max())))

    ax.set_xticks([float(t) for t in x_ticks[k]], x_ticks[k])
    ax.set_yticks([float(t) for t in y_ticks[k]], y_ticks[k])
    ax.tick_params(direction="out", length=3.5, width=0.8, color="#7f7f7f",
                   labelsize=10.8, labelcolor="#1a1a1a", pad=2)
    for sp in ax.spines.values():
        sp.set_color(BORDER)
        sp.set_linewidth(1.0)

    if k == 0:
        text = r"$\it{R}$ = ,"
    else:
        text = rf"$\it{{R}}$ = {r_values[k]} , $\it{{p}}$ {p_values[k]}"
    trans = mtransforms.blended_transform_factory(ax.transData, ax.transAxes)
    ax.text(xs.min(), label_y[k], text, transform=trans, ha="left", va="center",
            fontsize=10, color="black", zorder=5)

    strip.set_facecolor(STRIP_FILL)
    strip.set_xticks([])
    strip.set_yticks([])
    for name, sp in strip.spines.items():
        sp.set_color("#707070")
        sp.set_linewidth(0.8)
    strip.spines["bottom"].set_color("#4d4d4d")
    strip.spines["bottom"].set_linewidth(1.6)
    strip.text(0.5, 0.5, str(k), ha="center", va="center", fontsize=13,
               color="#1a1a1a", transform=strip.transAxes)

fig.text(755 / FIG_W, 1 - 1562 / FIG_H, "mWGS Abundance (%)", ha="center",
         va="center", fontsize=13)
fig.text(18 / FIG_W, 1 - 630 / FIG_H, "Allegro Abundance (%)", ha="center",
         va="center", rotation=90, fontsize=13)

fig.savefig("out.png", dpi=100)
